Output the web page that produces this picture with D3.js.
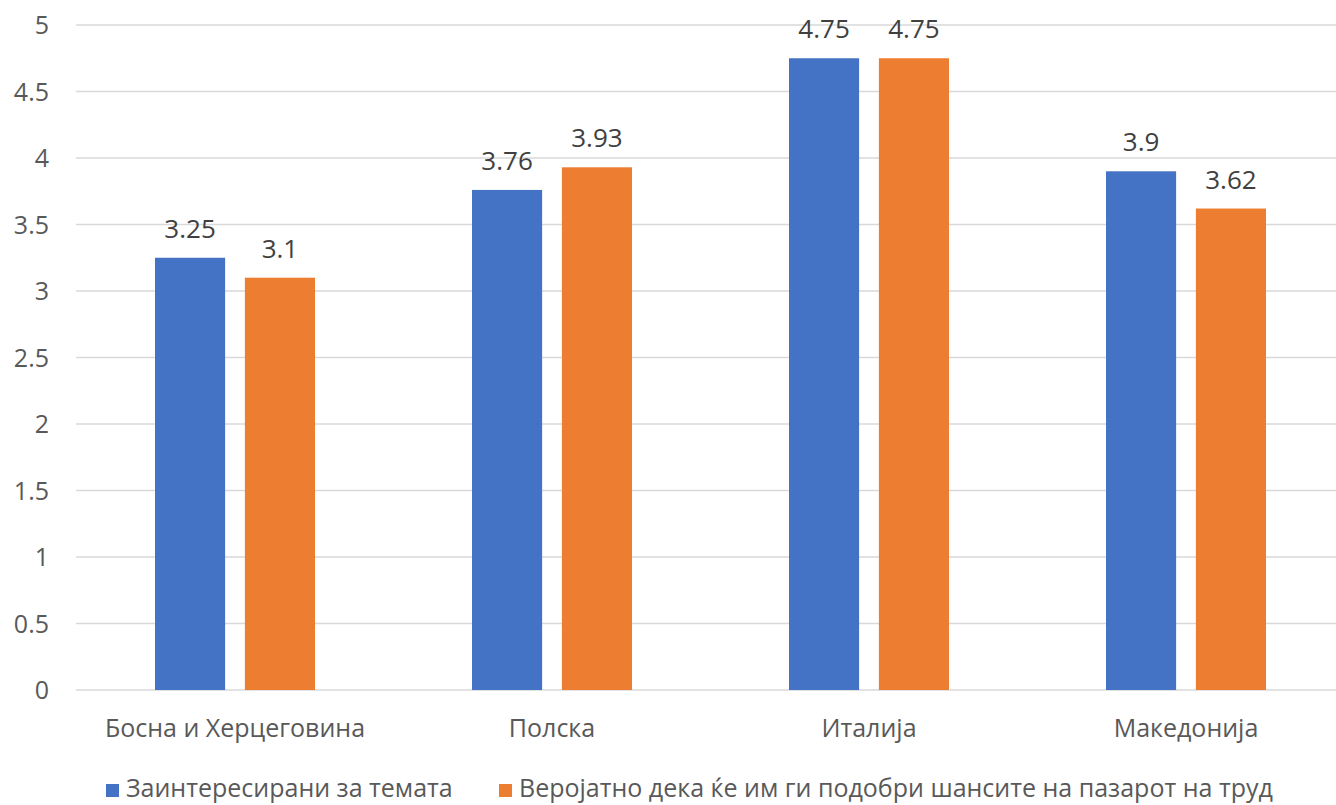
<!DOCTYPE html>
<html><head><meta charset="utf-8">
<script src="https://cdn.jsdelivr.net/npm/d3@7"></script>
<style>body{margin:0;background:#fff;} svg{display:block;}</style>
</head><body>
<svg id="c" width="1336" height="805"></svg>
<script>
const categories = ["Босна и Херцеговина", "Полска", "Италија", "Македонија"];
const seriesNames = ["Заинтересирани за темата", "Веројатно дека ќе им ги подобри шансите на пазарот на труд"];
const seriesA = [3.25, 3.76, 4.75, 3.9];
const seriesB = [3.1, 3.93, 4.75, 3.62];
const yTicks = [0, 0.5, 1, 1.5, 2, 2.5, 3, 3.5, 4, 4.5, 5];
const colors = ["#4472C4", "#ED7D31"];

const svg = d3.select("#c");
const font = "'Open Sans', sans-serif";
const x0 = d3.scaleBand().domain(categories).range([76.5, 1344.5]);
const x1 = d3.scaleBand().domain([0, 1]).range([-80, 80]).paddingInner(0.22);
const y = d3.scaleLinear().domain([0, 5]).range([690, 25]);

// gridlines
svg.append("g").selectAll("line").data(yTicks).join("line")
  .attr("x1", 76).attr("x2", 1336)
  .attr("y1", d => y(d)).attr("y2", d => y(d))
  .attr("stroke", "#D9D9D9").attr("stroke-width", 1.5);

// y axis labels
const yAxis = d3.axisLeft(y).tickValues(yTicks).tickSize(0).tickPadding(0).tickFormat(d3.format("~g"));
const ya = svg.append("g").attr("transform", "translate(49,0)").call(yAxis);
ya.select(".domain").remove();
ya.selectAll("text").attr("font-family", font).attr("font-size", 25).attr("fill", "#595959").attr("dy", "0.35em");

const data = categories.map((c, i) => ({c, vals: [seriesA[i], seriesB[i]]}));
const groups = svg.append("g").selectAll("g").data(data).join("g")
  .attr("transform", d => `translate(${x0(d.c) + x0.bandwidth() / 2},0)`);
groups.selectAll("rect").data(d => d.vals.map((v, k) => ({v, k}))).join("rect")
  .attr("x", d => x1(d.k)).attr("width", x1.bandwidth())
  .attr("y", d => y(d.v)).attr("height", d => y(0) - y(d.v))
  .attr("fill", d => colors[d.k]);
groups.selectAll("text.lbl").data(d => d.vals.map((v, k) => ({v, k}))).join("text")
  .attr("class", "lbl")
  .attr("x", d => x1(d.k) + x1.bandwidth() / 2)
  .attr("y", d => y(d.v) - 20)
  .attr("text-anchor", "middle").attr("font-family", font).attr("font-size", 26)
  .attr("fill", "#404040").text(d => d.v);

// x axis labels
const xAxis = d3.axisBottom(x0).tickSize(0).tickPadding(0);
const xa = svg.append("g").attr("transform", "translate(0,728)").call(xAxis);
xa.select(".domain").remove();
xa.selectAll("text").attr("font-family", font).attr("font-size", 25).attr("fill", "#595959").attr("dy", "0.35em");

// legend
const legendX = [106, 499];
const lg = svg.append("g").selectAll("g").data(seriesNames).join("g")
  .attr("transform", (d, i) => `translate(${legendX[i]},790)`);
lg.append("rect").attr("x", 0).attr("y", -6).attr("width", 13).attr("height", 13).attr("fill", (d, i) => colors[i]);
lg.append("text").attr("x", 20).attr("y", -2).attr("dy", "0.35em")
  .attr("font-family", font).attr("font-size", 25).attr("fill", "#595959").text(d => d);
</script>
</body></html>
